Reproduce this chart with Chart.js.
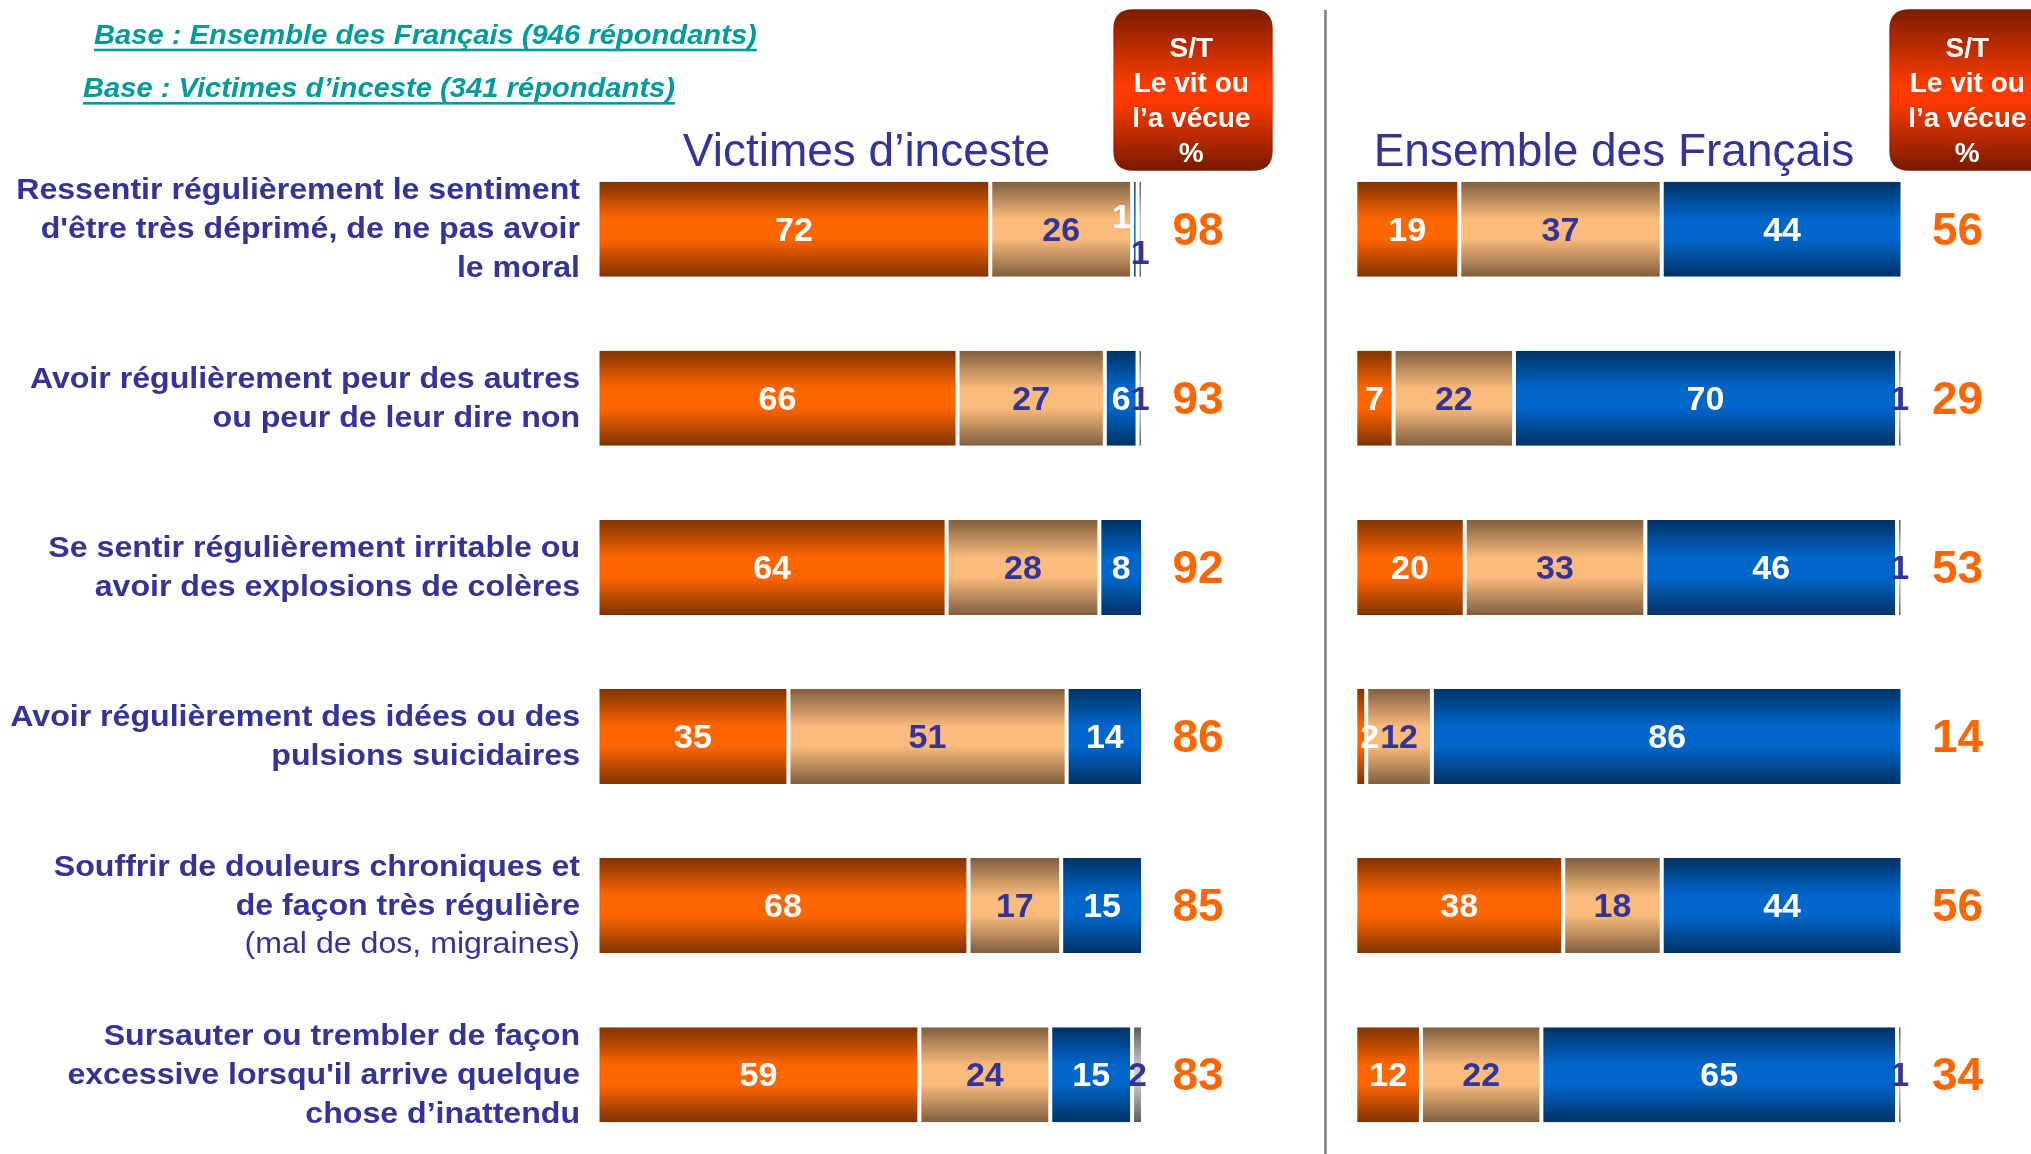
<!DOCTYPE html>
<html>
<head>
<meta charset="utf-8">
<script src="https://cdn.jsdelivr.net/npm/chart.js@4.4.1/dist/chart.umd.min.js"></script>
<style>
html, body { margin: 0; padding: 0; background: #ffffff; overflow: hidden; }
#wrap { position: relative; width: 2031px; height: 1154px; overflow: hidden; background: #ffffff; }
#left { position: absolute; left: 0; top: 0; }
#right { position: absolute; left: 1300px; top: 0; }
</style>
</head>
<body>
<div id="wrap">
  <canvas id="left" width="1300" height="1170"></canvas>
  <canvas id="right" width="731" height="1170"></canvas>
</div>
<script>
// ---------- DATA ----------
const categories = [
  ["Ressentir régulièrement le sentiment", "d'être très déprimé, de ne pas avoir", "le moral"],
  ["Avoir régulièrement peur des autres", "ou peur de leur dire non"],
  ["Se sentir régulièrement irritable ou", "avoir des explosions de colères"],
  ["Avoir régulièrement des idées ou des", "pulsions suicidaires"],
  ["Souffrir de douleurs chroniques et", "de façon très régulière"],
  ["Sursauter ou trembler de façon", "excessive lorsqu'il arrive quelque", "chose d’inattendu"]
];
const categoryNotes = ["", "", "", "", "(mal de dos, migraines)", ""];

const seriesNames = ["Oui, souvent", "Oui, de temps en temps", "Non, jamais", "NSP"];

// Victimes d'inceste
const victimesSouvent = [72, 66, 64, 35, 68, 59];
const victimesParfois = [26, 27, 28, 51, 17, 24];
const victimesJamais  = [1, 6, 8, 14, 15, 15];
const victimesNsp     = [1, 1, 0, 0, 0, 2];
const victimesTotal   = [98, 93, 92, 86, 85, 83];

// Ensemble des Français
const francaisSouvent = [19, 7, 20, 2, 38, 12];
const francaisParfois = [37, 22, 33, 12, 18, 22];
const francaisJamais  = [44, 70, 46, 86, 44, 65];
const francaisNsp     = [0, 1, 1, 0, 0, 1];
const francaisTotal   = [56, 29, 53, 14, 56, 34];

const panelTitles = ["Victimes d’inceste", "Ensemble des Français"];
const baseNotes = ["Base : Ensemble des Français (946 répondants)", "Base : Victimes d’inceste (341 répondants)"];
const boxLines = ["S/T", "Le vit ou", "l’a vécue", "%"];

// ---------- STYLE ----------
const FONT = "'Liberation Sans', Arial, Helvetica, sans-serif";
const NAVY = "#333399";
const BAR_PCT = 0.5618;
const palettes = [
  ["#7F3300", "#FF6600"],
  ["#7F5F3F", "#FBBB7C"],
  ["#003366", "#0066CC"],
  ["#5A5A5A", "#C8C8C8"]
];
const labelColors = ["#ffffff", NAVY, "#ffffff", NAVY];

function gradientFor(ctx, i) {
  const [dark, light] = palettes[i];
  if (ctx.type !== 'data') return light;
  const chart = ctx.chart;
  const ys = chart.scales && chart.scales.y;
  if (!ys || ys.top == null || !isFinite(ys.height)) return light;
  const yc = ys.getPixelForValue(ctx.dataIndex);
  const half = ys.height / chart.data.labels.length * BAR_PCT / 2;
  if (!isFinite(yc) || !isFinite(half)) return light;
  const g = chart.ctx.createLinearGradient(0, yc - half, 0, yc + half);
  g.addColorStop(0, dark);
  g.addColorStop(0.4, light);
  g.addColorStop(0.6, light);
  g.addColorStop(1, dark);
  return g;
}

function makeDatasets(seriesValues) {
  return seriesValues.map((vals, i) => ({
    label: seriesNames[i],
    data: vals,
    backgroundColor: (ctx) => gradientFor(ctx, i),
    borderColor: "#ffffff",
    borderWidth: { left: 2, right: 2, top: 0, bottom: 0 },
    borderSkipped: false,
    barPercentage: BAR_PCT,
    categoryPercentage: 1,
    inflateAmount: 0
  }));
}

function scaledText(c, text, x, y, sx, align) {
  c.save();
  c.translate(x, y);
  c.scale(sx, 1);
  c.textAlign = align;
  c.fillText(text, 0, 0);
  c.restore();
}

function drawBox(c, x, y, w, h, r, cx) {
  const g = c.createLinearGradient(0, y, 0, y + h);
  g.addColorStop(0, "#7A1C00");
  g.addColorStop(0.48, "#FF3C00");
  g.addColorStop(0.58, "#FA3800");
  g.addColorStop(1, "#761A00");
  c.save();
  c.beginPath();
  c.moveTo(x + r, y);
  c.lineTo(x + w - r, y);
  c.quadraticCurveTo(x + w, y, x + w, y + r);
  c.lineTo(x + w, y + h - r);
  c.quadraticCurveTo(x + w, y + h, x + w - r, y + h);
  c.lineTo(x + r, y + h);
  c.quadraticCurveTo(x, y + h, x, y + h - r);
  c.lineTo(x, y + r);
  c.quadraticCurveTo(x, y, x + r, y);
  c.closePath();
  c.fillStyle = g;
  c.fill();
  c.fillStyle = "#ffffff";
  c.font = "bold 28px " + FONT;
  c.textAlign = "center";
  c.textBaseline = "alphabetic";
  boxLines.forEach((t, k) => c.fillText(t, cx, 57 + k * 34.9));
  c.restore();
}

// value labels inside segments + totals
const valueLabelsPlugin = {
  id: 'valueLabels',
  afterDatasetsDraw(chart, args, opts) {
    const c = chart.ctx;
    const area = chart.chartArea;
    c.save();
    c.font = "bold 34px " + FONT;
    c.textBaseline = "middle";
    c.textAlign = "center";
    const n = chart.data.labels.length;
    for (let idx = 0; idx < n; idx++) {
      const items = [];
      chart.data.datasets.forEach((ds, i) => {
        const v = ds.data[idx];
        if (!v) return;
        const el = chart.getDatasetMeta(i).data[idx];
        const t = String(v);
        const w = c.measureText(t).width;
        let x = (el.x + el.base) / 2;
        x = Math.max(x, area.left + w / 2 + 5);
        items.push({ t, x, y: el.y + 2, w, h: el.height, color: labelColors[i] });
      });
      for (let k = 1; k < items.length; k++) {
        const a = items[k - 1], b = items[k];
        const need = (a.w + b.w) / 2;
        if (b.x - a.x < need - 1) {
          a.x = b.x - need;
          a.y -= 0.13 * a.h;
          b.y += 0.25 * b.h;
        }
      }
      items.forEach(it => { c.fillStyle = it.color; c.fillText(it.t, it.x, it.y); });
      // totals
      const yc = chart.scales.y.getPixelForValue(idx);
      c.save();
      c.font = "bold 46px " + FONT;
      c.fillStyle = "#FF6600";
      c.fillText(String(opts.totals[idx]), area.right + 55, yc + 3);
      c.restore();
    }
    c.restore();
  }
};

// category labels (left panel only)
const categoryLabelsPlugin = {
  id: 'categoryLabels',
  afterDraw(chart, args, opts) {
    if (!opts.show) return;
    const c = chart.ctx;
    const ys = chart.scales.y;
    const xr = chart.chartArea.left - 17.5;
    const lh = 38.8;
    c.save();
    c.fillStyle = NAVY;
    c.textBaseline = "middle";
    categories.forEach((lines, idx) => {
      const all = lines.map(t => ({ t, bold: true }));
      if (categoryNotes[idx]) all.push({ t: categoryNotes[idx], bold: false });
      const yc = ys.getPixelForValue(idx) + 1;
      const y0 = yc - (all.length - 1) * lh / 2;
      all.forEach((ln, k) => {
        c.font = (ln.bold ? "bold " : "") + "29px " + FONT;
        scaledText(c, ln.t, xr, y0 + k * lh, 1.107, "right");
      });
    });
    c.restore();
  }
};

// decorations: titles, base notes, S/T box, divider
const decorPlugin = {
  id: 'decor',
  afterDraw(chart, args, opts) {
    const c = chart.ctx;
    c.save();
    // panel title
    c.fillStyle = NAVY;
    c.font = "46px " + FONT;
    c.textAlign = "center";
    c.textBaseline = "alphabetic";
    c.fillText(opts.title, opts.titleX, 165.7);
    // S/T box
    drawBox(c, opts.boxX, 9.3, 159.4, 161.4, 20, opts.boxX + 78);
    if (opts.bases) {
      c.fillStyle = "#009B9B";
      c.font = "italic bold 27px " + FONT;
      c.textAlign = "left";
      const pos = [[94, 43.5, 50], [83, 96.9, 103.3]];
      baseNotes.forEach((t, k) => {
        const [x, yb, yu] = pos[k];
        scaledText(c, t, x, yb, 1.08, "left");
        const w = c.measureText(t).width * 1.08;
        c.fillRect(x, yu - 1.3, w, 2.6);
      });
    }
    if (opts.divider) {
      c.fillStyle = "#808080";
      c.fillRect(opts.divider, 10, 2.6, 1170);
    }
    c.restore();
  }
};

function makeChart(id, seriesValues, totals, pad, decor, showLabels) {
  return new Chart(document.getElementById(id), {
    type: 'bar',
    data: { labels: categories, datasets: makeDatasets(seriesValues) },
    options: {
      indexAxis: 'y',
      responsive: false,
      animation: false,
      events: [],
      layout: { padding: { left: pad.left, right: pad.right, top: 144.65, bottom: 10.75 } },
      scales: {
        x: { stacked: true, min: 0, max: 100, display: false },
        y: { stacked: true, display: false }
      },
      plugins: {
        legend: { display: false },
        tooltip: { enabled: false },
        valueLabels: { totals },
        categoryLabels: { show: showLabels },
        decor
      }
    },
    plugins: [valueLabelsPlugin, categoryLabelsPlugin, decorPlugin]
  });
}

makeChart('left',
  [victimesSouvent, victimesParfois, victimesJamais, victimesNsp],
  victimesTotal,
  { left: 597.5, right: 157 },
  { title: panelTitles[0], titleX: 866.5, boxX: 1113.3, bases: true, divider: 0 },
  true);

makeChart('right',
  [francaisSouvent, francaisParfois, francaisJamais, francaisNsp],
  francaisTotal,
  { left: 55.3, right: 128.5 },
  { title: panelTitles[1], titleX: 314, boxX: 589.3, bases: false, divider: 24.2 },
  false);
</script>
</body>
</html>
